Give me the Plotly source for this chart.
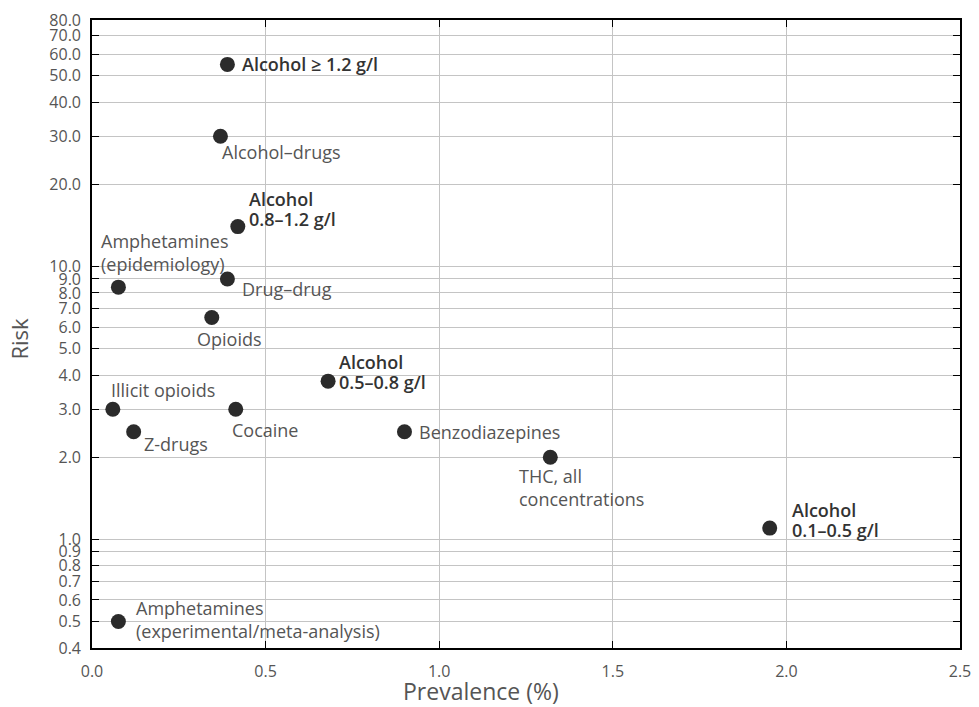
import math
import plotly.graph_objects as go

# ---- data ----
labels = [
    "Alcohol ≥ 1.2 g/l", "Alcohol–drugs", "Alcohol<br>0.8–1.2 g/l",
    "Amphetamines<br>(epidemiology)", "Drug–drug", "Opioids",
    "Illicit opioids", "Cocaine", "Z-drugs", "Alcohol<br>0.5–0.8 g/l",
    "Benzodiazepines", "THC, all<br>concentrations", "Alcohol<br>0.1–0.5 g/l",
    "Amphetamines<br>(experimental/meta-analysis)",
]
prevalence = [0.39, 0.37, 0.42, 0.076, 0.39, 0.345, 0.06, 0.414, 0.12, 0.68, 0.90, 1.32, 1.952, 0.076]
risk = [55.0, 30.0, 14.0, 8.4, 9.0, 6.5, 3.0, 3.0, 2.48, 3.8, 2.48, 2.0, 1.1, 0.5]
bold = [True, False, True, False, False, False, False, False, False, True, False, False, True, False]

y_ticks = [0.4, 0.5, 0.6, 0.7, 0.8, 0.9, 1.0, 2.0, 3.0, 4.0, 5.0, 6.0, 7.0, 8.0, 9.0,
           10.0, 20.0, 30.0, 40.0, 50.0, 60.0, 70.0, 80.0]
x_ticks = [0.0, 0.5, 1.0, 1.5, 2.0, 2.5]

x_title = "Prevalence (%)"
y_title = "Risk"

# ---- label placement (pixel offsets, style only) ----
label_dx = [13, 0, 9, -19, 13, -17, -4, -6, 8, 9, 13, -33, 20, 16]
label_dy = [0, -16, 18, 35, -10, -21, 19, -21, -12, 9, 0, -30, 8, 2]

font_family = "'Open Sans', Roboto, sans-serif"

fig = go.Figure()
fig.add_trace(go.Scatter(
    x=prevalence, y=risk, mode="markers",
    marker=dict(size=15, color="#2b2b2b"),
    hoverinfo="skip", showlegend=False,
))

for lab, px, py, b, dx, dy in zip(labels, prevalence, risk, bold, label_dx, label_dy):
    lines = lab.split("<br>")
    n = len(lines)
    gap = 20 if b else 23
    for i, line in enumerate(lines):
        fig.add_annotation(
            x=px, y=math.log10(py), xref="x", yref="y", text=line, showarrow=False,
            xanchor="left", yanchor="middle", align="left",
            xshift=dx, yshift=dy + ((n - 1) / 2 - i) * gap,
            font=dict(family=font_family, size=18, weight=600 if b else 400,
                      color="#333333" if b else "#555555"),
        )

# axis titles
fig.add_annotation(
    x=0.448, y=-0.0685, xref="paper", yref="paper", text=x_title, showarrow=False,
    xanchor="center", yanchor="middle",
    font=dict(family=font_family, size=23, color="#555555"),
)
fig.add_annotation(
    x=-0.0835, y=0.492, xref="paper", yref="paper", text=y_title, showarrow=False,
    xanchor="center", yanchor="middle", textangle=-90,
    font=dict(family=font_family, size=22, color="#555555"),
)

fig.update_layout(
    width=979, height=707,
    margin=dict(l=84, r=27, t=12, b=67),
    paper_bgcolor="white", plot_bgcolor="white",
    font=dict(family=font_family, color="#555555"),
)
fig.update_xaxes(
    range=[0, 2.5], tickvals=x_ticks, ticktext=[f"{v:.1f}" for v in x_ticks],
    showgrid=True, gridcolor="#c4c4c4", gridwidth=1.2,
    showline=True, linecolor="black", linewidth=1.6, mirror="ticks",
    ticks="inside", ticklen=7, tickcolor="black",
    tickfont=dict(size=16, color="#555555"), ticklabelstandoff=8,
    zeroline=False, automargin=False,
)
fig.update_yaxes(
    type="log", range=[math.log10(0.4), math.log10(80)],
    tickvals=y_ticks, ticktext=[f"{v:.1f}" for v in y_ticks],
    showgrid=True, gridcolor="#c4c4c4", gridwidth=1.2,
    showline=True, linecolor="black", linewidth=1.6, mirror="ticks",
    ticks="inside", ticklen=7, tickcolor="black",
    tickfont=dict(size=16, color="#555555"), ticklabelstandoff=6,
    zeroline=False, automargin=False,
)

fig.write_html("out.html")
